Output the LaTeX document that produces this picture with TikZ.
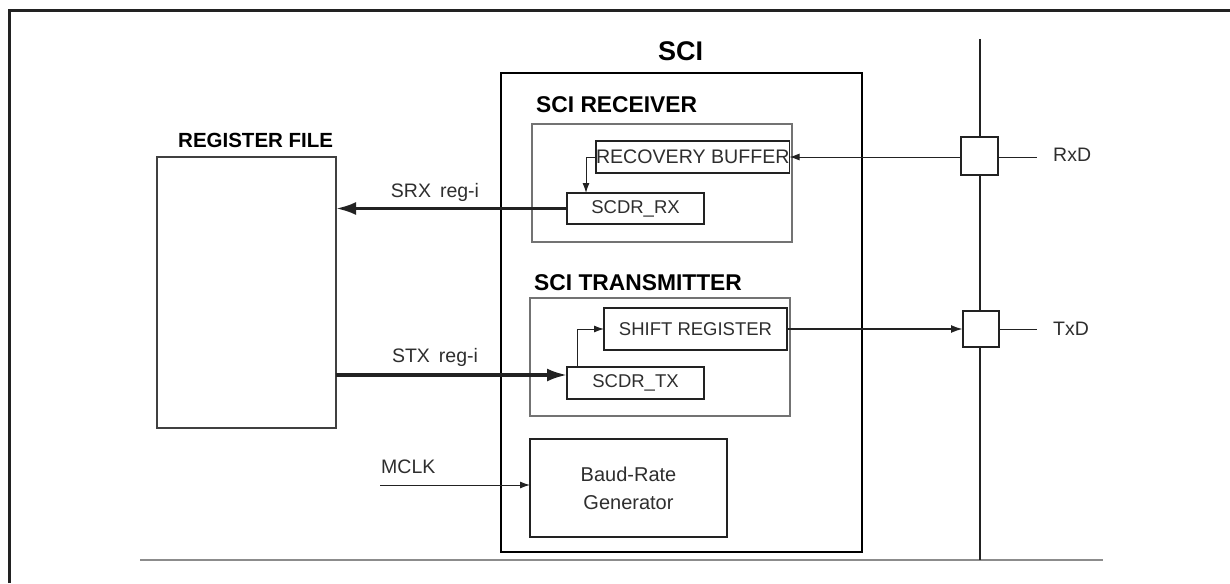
\documentclass[tikz,border=0pt]{standalone}
\usepackage{fontspec}
\setmainfont{Liberation Sans}
\usetikzlibrary{arrows.meta}
\definecolor{txt}{HTML}{2E2E2E}
\definecolor{ln}{HTML}{222222}
\begin{document}
\begin{tikzpicture}[x=1pt,y=-1pt,
  frameline/.style={draw=ln,line width=3pt},
  scibox/.style={draw=black,line width=2.3pt,inner sep=0pt,outer sep=0pt,anchor=north west},
  groupbox/.style={draw=black!55,line width=1.2pt,inner sep=0pt,outer sep=0pt,anchor=north west},
  regbox/.style={draw=black!75,line width=1.4pt,inner sep=0pt,outer sep=0pt,anchor=north west},
  innerbox/.style={draw=ln,line width=1.5pt,inner sep=0pt,outer sep=0pt,anchor=north west,
     text=txt,font=\fontsize{18.5}{20}\selectfont},
  padbox/.style={draw=ln,line width=1.5pt,fill=white,inner sep=0pt,outer sep=0pt,anchor=north west},
  lbl/.style={inner sep=0pt,text=txt,font=\fontsize{19.5}{21}\selectfont},
  ttl/.style={inner sep=0pt,text=black,font=\bfseries\fontsize{22.8}{25}\selectfont},
  thinwire/.style={draw=ln,line width=1pt},
  thinarrow/.style={draw=ln,line width=1pt,-{Latex[length=10pt,width=7pt]}},
  medarrow/.style={draw=ln,line width=2pt,-{Latex[length=12pt,width=8pt]}},
  thickarrow/.style={draw=ln,line width=3.2pt,-{Latex[length=20pt,width=13pt]}},
  busline/.style={draw=ln,line width=1.5pt},
  baseline/.style={draw=black!45,line width=2.5pt}
]
\useasboundingbox (0,0) rectangle (1230,583);

% outer frame
\coordinate (fbl) at (9,583);
\coordinate (ftl) at (9,11);
\coordinate (ftr) at (1230,11);
\draw[frameline] (fbl) -- (ftl) -- (ftr);

% bottom gray line and bus
\coordinate (gl) at (140,560);
\coordinate (gr) at (1103,560);
\draw[baseline] (gl) -- (gr);
\coordinate (bustop) at (980,39);
\coordinate (busbot) at (980,560);
\draw[busline] (bustop) -- (busbot);

% register file
\node[ttl,anchor=west,font=\bfseries\fontsize{20.5}{22}\selectfont] (regttl) at (178,140) {REGISTER FILE};
\node[regbox,minimum width=179pt,minimum height=271pt] (regfile) at (157,157) {};

% SCI
\node[ttl,font=\bfseries\fontsize{27}{30}\selectfont] (scittl) at (680.5,51) {SCI};
\node[scibox,minimum width=361pt,minimum height=479pt] (sci) at (501,73) {};

% receiver
\node[ttl,anchor=west] (rxttl) at (536,105) {SCI RECEIVER};
\node[groupbox,minimum width=260pt,minimum height=118pt] (rxgrp) at (532,124) {};
\node[innerbox,line width=1.3pt,minimum width=191pt,minimum height=32pt,
      font=\fontsize{19.6}{20}\selectfont] (recbuf) at (596,141) {RECOVERY BUFFER};
\node[innerbox,minimum width=137pt,minimum height=31pt] (scdrrx) at (567,193) {SCDR\_RX};

% transmitter
\node[ttl,anchor=west] (txttl) at (534,283) {SCI TRANSMITTER};
\node[groupbox,minimum width=260pt,minimum height=118pt] (txgrp) at (530,298) {};
\node[innerbox,minimum width=183pt,minimum height=42pt] (shiftreg) at (604,308) {SHIFT REGISTER};
\node[innerbox,minimum width=137pt,minimum height=32pt] (scdrtx) at (567,367) {SCDR\_TX};

% baud rate generator
\node[innerbox,minimum width=197pt,minimum height=98pt,align=center,
      font=\fontsize{20}{28}\selectfont] (baud) at (530,439) {Baud-Rate\\Generator};

% pads
\node[padbox,minimum width=37pt,minimum height=38pt] (rxpad) at (961,137) {};
\node[padbox,minimum width=36pt,minimum height=36pt] (txpad) at (963,311) {};

% pad wires and labels
\coordinate (rxend) at (1037,157);
\draw[thinwire] (rxpad.east |- rxend) -- (rxend);
\node[lbl,anchor=west] (rxd) at (1053,155) {RxD};
\coordinate (txend) at (1037,329);
\draw[thinwire] (txpad.east |- txend) -- (txend);
\node[lbl,anchor=west] (txd) at (1053,329) {TxD};

% receive path
\draw[thinarrow] (rxpad.west |- recbuf.east) -- (recbuf.east);
\draw[thinarrow] (recbuf.west) -| ([xshift=19pt]scdrrx.north west);
\draw[thickarrow] (scdrrx.west) -- (scdrrx.west -| regfile.east);
\node[lbl] (srxlbl) at (435,192) {SRX\hskip 9pt reg-i};

% transmit path
\coordinate (stxend) at ([yshift=8pt]scdrtx.west);
\draw[thickarrow] (regfile.east |- stxend) -- (stxend);
\node[lbl] (stxlbl) at (435,357) {STX\hskip 9pt reg-i};
\draw[thinarrow] ([xshift=10pt]scdrtx.north west) |- (shiftreg.west);
\draw[medarrow] (shiftreg.east) -- (txpad.west |- shiftreg.east);

% clock
\coordinate (mclkstart) at (380,485);
\draw[thinarrow] (mclkstart) -- (mclkstart -| baud.west);
\node[lbl,anchor=west] (mclk) at (381,467) {MCLK};
\end{tikzpicture}
\end{document}
